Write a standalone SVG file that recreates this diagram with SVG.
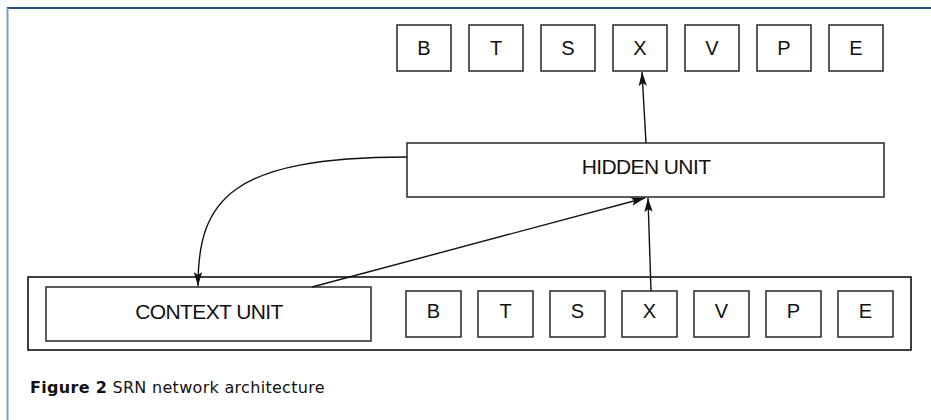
<svg xmlns="http://www.w3.org/2000/svg" width="931" height="420" viewBox="0 0 931 420">
<style>
.box{fill:#fff;stroke:#333;stroke-width:1.6}
.outer{fill:#fff;stroke:#111;stroke-width:1.6}
.lbl{font-family:"Liberation Sans",Arial,sans-serif;font-size:20px;fill:#111;text-anchor:middle}
.big{font-family:"Liberation Sans",Arial,sans-serif;font-size:21px;fill:#111;text-anchor:middle;letter-spacing:-0.6px}
.cap{font-family:"DejaVu Sans","Liberation Sans",sans-serif;font-size:16px;fill:#111;letter-spacing:0.3px}
.conn{fill:none;stroke:#111;stroke-width:1.4}
</style>
<defs>
<marker id="ah" markerUnits="userSpaceOnUse" markerWidth="15" markerHeight="10" refX="14" refY="5" orient="auto">
<path d="M0,0.8 L14,5 L0,9.2 L3,5 z" fill="#111"/>
</marker>
</defs>
<rect width="931" height="420" fill="#fff"/>
<g id="frame">
<line x1="7" y1="8" x2="931" y2="8" stroke="#1f4e79" stroke-width="2"/>
<line x1="7.5" y1="8" x2="7.5" y2="420" stroke="#7f9db9" stroke-width="2"/>
</g>
<g id="output-layer">
<g id="out-B"><rect class="box" x="397" y="25" width="54" height="46"/><text class="lbl" x="424" y="55">B</text></g>
<g id="out-T"><rect class="box" x="469" y="25" width="54" height="46"/><text class="lbl" x="496" y="55">T</text></g>
<g id="out-S"><rect class="box" x="541" y="25" width="54" height="46"/><text class="lbl" x="568" y="55">S</text></g>
<g id="out-X"><rect class="box" x="613" y="25" width="54" height="46"/><text class="lbl" x="640" y="55">X</text></g>
<g id="out-V"><rect class="box" x="685" y="25" width="54" height="46"/><text class="lbl" x="712" y="55">V</text></g>
<g id="out-P"><rect class="box" x="757" y="25" width="54" height="46"/><text class="lbl" x="784" y="55">P</text></g>
<g id="out-E"><rect class="box" x="829" y="25" width="54" height="46"/><text class="lbl" x="856" y="55">E</text></g>
</g>
<g id="hidden-unit"><rect class="box" x="407" y="143" width="477" height="54"/><text class="big" x="646" y="174">HIDDEN UNIT</text></g>
<g id="input-layer">
<rect class="outer" x="28" y="277" width="883" height="73"/>
</g>
<g id="context-unit"><rect class="box" x="46" y="287" width="325" height="54"/><text class="big" x="209" y="319">CONTEXT UNIT</text></g>
<g id="inputs">
<g id="in-B"><rect class="box" x="406" y="291" width="55" height="46"/><text class="lbl" x="433.5" y="318">B</text></g>
<g id="in-T"><rect class="box" x="478" y="291" width="55" height="46"/><text class="lbl" x="505.5" y="318">T</text></g>
<g id="in-S"><rect class="box" x="550" y="291" width="55" height="46"/><text class="lbl" x="577.5" y="318">S</text></g>
<g id="in-X"><rect class="box" x="622" y="291" width="55" height="46"/><text class="lbl" x="649.5" y="318">X</text></g>
<g id="in-V"><rect class="box" x="694" y="291" width="55" height="46"/><text class="lbl" x="721.5" y="318">V</text></g>
<g id="in-P"><rect class="box" x="766" y="291" width="55" height="46"/><text class="lbl" x="793.5" y="318">P</text></g>
<g id="in-E"><rect class="box" x="838" y="291" width="55" height="46"/><text class="lbl" x="865.5" y="318">E</text></g>
</g>
<g id="connectors">
<path class="conn" d="M646,143 L642,72" marker-end="url(#ah)"/>
<path class="conn" d="M651,291 L648,198" marker-end="url(#ah)"/>
<path class="conn" d="M312,287 L645,198" marker-end="url(#ah)"/>
<path class="conn" d="M407,157 C230,157 198,200 198,286" marker-end="url(#ah)"/>
</g>
<g id="caption"><text class="cap" x="30" y="393"><tspan font-weight="bold">Figure 2</tspan> SRN network architecture</text></g>
</svg>
